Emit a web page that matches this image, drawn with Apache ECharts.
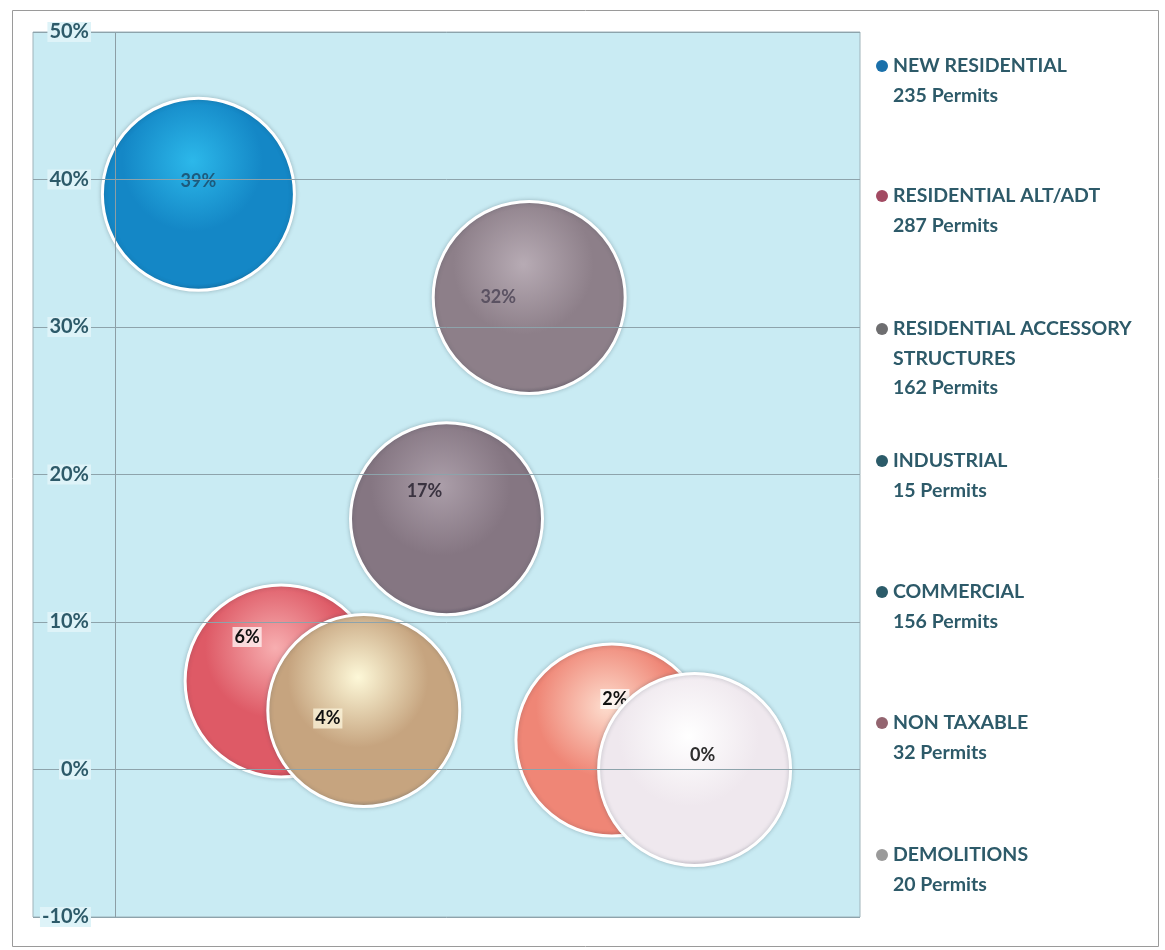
<!DOCTYPE html>
<html>
<head>
<meta charset="utf-8">
<title>Permits by Type</title>
<script src="https://cdn.jsdelivr.net/npm/echarts@6/dist/echarts.min.js"></script>
<style>
  html, body { margin: 0; padding: 0; background: #ffffff; }
  #chart { width: 1165px; height: 950px; }
</style>
</head>
<body>
<div id="chart"></div>
<script>
// Permit categories (series order) and their permit counts
const categories = [
  'NEW RESIDENTIAL',
  'RESIDENTIAL ALT/ADT',
  'RESIDENTIAL ACCESSORY\nSTRUCTURES',
  'INDUSTRIAL',
  'COMMERCIAL',
  'NON TAXABLE',
  'DEMOLITIONS'
];
const permits = [235, 287, 162, 15, 156, 32, 20];

// Bubble positions: x slot and percentage value
const xValues = [1, 2, 3, 4, 5, 6, 7];
const yValues = [39, 6, 4, 17, 32, 2, 0];

// Y axis range (percent)
const yMin = -10, yMax = 50, yStep = 10;

// Sphere shading per bubble: [highlight, body, rim]
const shades = [
  ['#2cb8ea', '#1487c6', '#0b5f92'],
  ['#f7aeb0', '#de5a66', '#b22c3e'],
  ['#fdf8d8', '#c6a47f', '#7b7775'],
  ['#ab9ea9', '#857682', '#4b4254'],
  ['#b7abb4', '#8d7f89', '#534957'],
  ['#fddccd', '#ef8676', '#c4544c'],
  ['#ffffff', '#efe8ee', '#a394a6']
];
// Legend marker colours
const legendColors = ['#1a70aa', '#a24a62', '#6e6e70', '#2b5b69', '#2b5b69', '#93646f', '#9a9a9a'];
// Label look per bubble: offset from centre, colour, backdrop
const labelLook = [
  { offset: [0, -13], color: '#1d5a7c', bg: 'transparent' },
  { offset: [-34, -44], color: '#111111', bg: 'rgba(255,245,245,0.75)' },
  { offset: [-36, 8], color: '#111111', bg: 'rgba(255,250,225,0.7)' },
  { offset: [-22, -28], color: '#3a3340', bg: 'transparent' },
  { offset: [-31, 0], color: '#5b5262', bg: 'transparent' },
  { offset: [3, -41], color: '#111111', bg: 'rgba(255,255,255,0.75)' },
  { offset: [8, -14], color: '#2d2d2d', bg: 'transparent' }
];
// First-line centre of each legend entry (px from top)
const legendRows = [66, 196, 329, 461, 592, 723, 855];

const textColor = '#2d5a69';
const fontFamily = 'Lato, "Open Sans", sans-serif';
const lineH = 29.5;

const chart = echarts.init(document.getElementById('chart'), null, { renderer: 'canvas' });

const series = categories.map((name, i) => {
  const s = shades[i];
  const look = labelLook[i];
  const item = {
    name: name,
    type: 'scatter',
    symbol: 'circle',
    symbolSize: 192,
    z: 2 + i,
    data: [[xValues[i], yValues[i]]],
    itemStyle: {
      opacity: 1,
      color: {
        type: 'radial', x: 0.47, y: 0.33, r: 0.72,
        colorStops: [
          { offset: 0, color: s[0] },
          { offset: 0.5, color: s[1] },
          { offset: 0.88, color: s[1] },
          { offset: 1, color: s[2] }
        ]
      },
      borderColor: '#ffffff',
      borderWidth: 3,
      shadowColor: 'rgba(40,60,70,0.25)',
      shadowBlur: 4
    },
    emphasis: { disabled: true },
    label: {
      show: true,
      position: 'inside',
      offset: look.offset,
      formatter: p => p.value[1] + '%',
      color: look.color,
      backgroundColor: look.bg,
      padding: [1, 2],
      fontFamily: fontFamily,
      fontWeight: 'bold',
      fontSize: 18
    }
  };
  if (i === 0) {
    // Vertical line where x = 0
    item.markLine = {
      silent: true,
      symbol: 'none',
      label: { show: false },
      lineStyle: { color: '#8c9ea5', width: 1, type: 'solid' },
      data: [{ xAxis: 0 }]
    };
  }
  return item;
});

// One legend block per category; blank leading lines keep the marker on the first text line
const legends = categories.map((name, i) => {
  const lines = name.split('\n').length + 1;
  return {
    show: true,
    left: 876,
    top: legendRows[i] - (2 * lines - 1) * lineH / 2,
    orient: 'vertical',
    padding: 0,
    icon: 'circle',
    itemWidth: 12,
    itemHeight: 12,
    itemGap: 6,
    selectedMode: false,
    data: [{ name: name, itemStyle: { color: legendColors[i], borderWidth: 0 } }],
    formatter: n => '\n'.repeat(lines - 1) + n + '\n' + permits[i] + ' Permits',
    textStyle: {
      color: textColor,
      fontFamily: fontFamily,
      fontWeight: 'bold',
      fontSize: 19.5,
      lineHeight: lineH
    }
  };
});

const option = {
  animation: false,
  backgroundColor: '#ffffff',
  graphic: [
    {
      type: 'rect',
      silent: true,
      z: -10,
      shape: { x: 12.5, y: 10.5, width: 1146, height: 936 },
      style: { fill: 'none', stroke: '#9a9a9a', lineWidth: 1 }
    }
  ],
  legend: legends,
  grid: {
    left: 33, right: 305, top: 32, bottom: 33,
    show: true,
    backgroundColor: '#c9ebf3',
    borderColor: '#9fb3ba',
    borderWidth: 1
  },
  xAxis: {
    type: 'value',
    min: -1, max: 9,
    axisLine: { show: false },
    axisTick: { show: false },
    axisLabel: { show: false },
    splitLine: { show: false }
  },
  yAxis: {
    type: 'value',
    min: yMin, max: yMax, interval: yStep,
    axisLine: { show: false },
    axisTick: { show: false },
    axisLabel: {
      inside: true,
      align: 'right',
      margin: 58,
      formatter: v => v + '%',
      color: textColor,
      fontFamily: fontFamily,
      fontWeight: 'bold',
      fontSize: 20,
      backgroundColor: '#def3f8',
      padding: [0, 2]
    },
    splitLine: { show: true, lineStyle: { color: '#8da3ab', width: 1 } },
    z: 10
  },
  series: series
};

chart.setOption(option);
</script>
</body>
</html>
